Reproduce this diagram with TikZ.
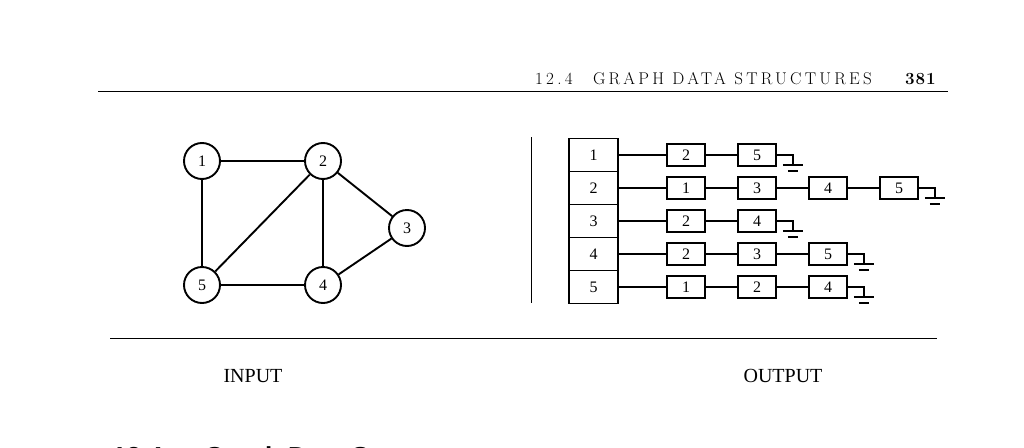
\documentclass[tikz,border=0pt]{standalone}
\usepackage{fontspec}
\newfontfamily\timesfont{Liberation Serif}
\newfontfamily\headsans{Liberation Sans}
\newfontfamily\headfont[LetterSpace=19]{Latin Modern Roman}
\newfontfamily\pagefont[LetterSpace=6]{Latin Modern Roman}
\usetikzlibrary{positioning}
\tikzset{>=latex}
\tikzset{
    vertex/.style={draw, circle, line width=1.9pt, minimum size=36pt, inner sep=0pt,
        font=\timesfont\fontsize{16}{16}\selectfont},
    headbox/.style={draw, line width=1.8pt, minimum width=49pt, minimum height=33pt,
        inner sep=0pt, font=\timesfont\fontsize{16}{16}\selectfont},
    cellbox/.style={draw, line width=1.6pt, minimum width=38pt, minimum height=22pt,
        inner sep=0pt, font=\timesfont\fontsize{16}{16}\selectfont},
    edge/.style={line width=1.9pt},
    caption/.style={font=\timesfont\fontsize{20}{20}\selectfont, inner sep=0pt},
    runhead/.style={anchor=base east, inner sep=0pt, font=\headfont\fontsize{17}{17}\selectfont},
}

\begin{document}
\begin{tikzpicture}[x=1pt, y=-1pt]
    \useasboundingbox (0, 0) rectangle (1024, 447);
    % running head
    \node[runhead, anchor=base west](sec) at (535, 84){12.4};
    \node[runhead](title) at (872, 84){GRAPH DATA STRUCTURES};
    \node[runhead, font=\pagefont\fontsize{17}{17}\selectfont\bfseries](page) at (936, 84){381};
    \draw[line width=1pt](98, 91)--(948, 91);

    % input graph
    \node[vertex](v1) at (202, 161){1};
    \node[vertex](v2) at (323, 161){2};
    \node[vertex](v3) at (407, 228){3};
    \node[vertex](v4) at (323, 285){4};
    \node[vertex](v5) at (202, 285){5};
    \foreach \a/\b in {1/2, 1/5, 2/5, 2/4, 2/3, 3/4, 5/4}
        \draw[edge](v\a)--(v\b);

    \draw[line width=1pt](531, 137)--(531, 303);

    % output adjacency lists
    \foreach \r/\list/\w in {1/{2,5}/1.8, 2/{1,3,4,5}/1.8, 3/{2,4}/1.8, 4/{2,3,5}/1.8, 5/{1,2,4}/2.4}{
        \node[headbox](c\r-0) at (593.5, {122+33*\r}){\r};
        \foreach \c [count=\k, remember=\k as \prev (initially 0)] in \list{
            \node[cellbox](c\r-\k) at ({615+71*\k}, {122+33*\r}){\c};
            \draw[line width=\w pt](c\r-\prev)--(c\r-\k);
            \xdef\lastk{\k}
        }
        \coordinate[right=16pt of c\r-\lastk.east](g\r);
        \draw[line width=\w pt](c\r-\lastk.east)--(g\r)--++(0, 10)++(-10, 0)--++(20, 0);
        \draw[line width=2pt](g\r)++(-5, 16)--++(10, 0);
    }

    \draw[line width=1pt](110, 338)--(937, 338);
    \node[caption](input) at (253, 376){INPUT};
    \node[caption](output) at (783, 376){OUTPUT};

    % next section title, cut by the page edge
    \node[anchor=north west, inner sep=0pt, font=\headsans\bfseries\fontsize{26}{26}\selectfont](next) at (112, 446.5){12.4\hspace{1.6em}Graph Data Structures};
\end{tikzpicture}
\end{document}
